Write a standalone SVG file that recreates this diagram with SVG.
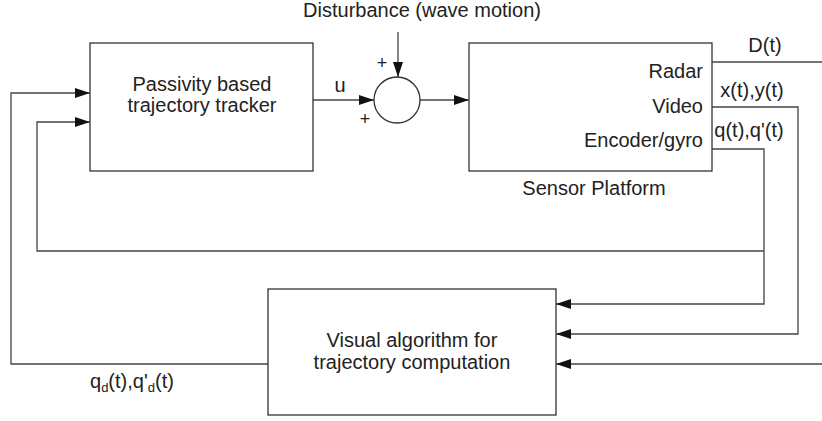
<svg xmlns="http://www.w3.org/2000/svg" width="822" height="421" viewBox="0 0 822 421">
<style>
  .box { fill: #ffffff; stroke: #333333; stroke-width: 1.3; }
  .ln { fill: none; stroke: #444444; stroke-width: 1.3; }
  .t { font-family: "Liberation Sans", Arial, sans-serif; font-size: 20px; fill: #222222; }
  .c { text-anchor: middle; }
  .r { text-anchor: end; }
  .s { font-size: 13px; }
  .p { font-size: 18px; }
</style>
<defs>
  <marker id="arr" markerUnits="userSpaceOnUse" markerWidth="16" markerHeight="12" refX="15" refY="5" orient="auto">
    <path d="M0,0 L15,5 L0,10 Z" fill="#111111"/>
  </marker>
</defs>
<rect width="822" height="421" fill="#ffffff"/>

<g id="connectors">
  <line class="ln" x1="313" y1="100" x2="374" y2="100" marker-end="url(#arr)"/>
  <line class="ln" x1="398" y1="32" x2="398" y2="77" marker-end="url(#arr)"/>
  <line class="ln" x1="420" y1="100" x2="469" y2="100" marker-end="url(#arr)"/>
  <line class="ln" x1="712" y1="62" x2="822" y2="62"/>
  <polyline class="ln" points="712,107 798,107 798,334 556,334" marker-end="url(#arr)"/>
  <polyline class="ln" points="712,149 764,149 764,304 556,304" marker-end="url(#arr)"/>
  <polyline class="ln" points="764,251 37,251 37,122 90,122" marker-end="url(#arr)"/>
  <line class="ln" x1="822" y1="364" x2="556" y2="364" marker-end="url(#arr)"/>
  <polyline class="ln" points="268,364 11,364 11,93 90,93" marker-end="url(#arr)"/>
</g>

<g id="tracker">
  <rect class="box" x="90" y="43" width="223" height="128"/>
  <text class="t c" x="202" y="91">Passivity based</text>
  <text class="t c" x="202" y="112">trajectory tracker</text>
</g>

<g id="sum">
  <circle cx="397" cy="100" r="23" fill="#ffffff" stroke="#333333" stroke-width="1.3"/>
  <text class="t p c" x="382" y="69">+</text>
  <text class="t p c" x="365" y="125">+</text>
</g>

<g id="disturbance">
  <text class="t c" x="422" y="17">Disturbance (wave motion)</text>
</g>

<g id="sensor">
  <rect class="box" x="469" y="43" width="243" height="128"/>
  <text class="t r" x="703" y="78">Radar</text>
  <text class="t r" x="703" y="113">Video</text>
  <text class="t r" x="703" y="147">Encoder/gyro</text>
  <text class="t c" x="594" y="195">Sensor Platform</text>
</g>

<g id="visual">
  <rect class="box" x="268" y="289" width="288" height="126"/>
  <text class="t c" x="412" y="347">Visual algorithm for</text>
  <text class="t c" x="412" y="369">trajectory computation</text>
</g>

<g id="labels">
  <text class="t c" x="340" y="92">u</text>
  <text class="t c" x="765" y="52">D(t)</text>
  <text class="t c" x="752" y="97">x(t),y(t)</text>
  <text class="t c" x="749" y="137">q(t),q'(t)</text>
  <text class="t" x="90" y="388">q<tspan class="s" dy="4">d</tspan><tspan dy="-4">(t),q'</tspan><tspan class="s" dy="4">d</tspan><tspan dy="-4">(t)</tspan></text>
</g>
</svg>
